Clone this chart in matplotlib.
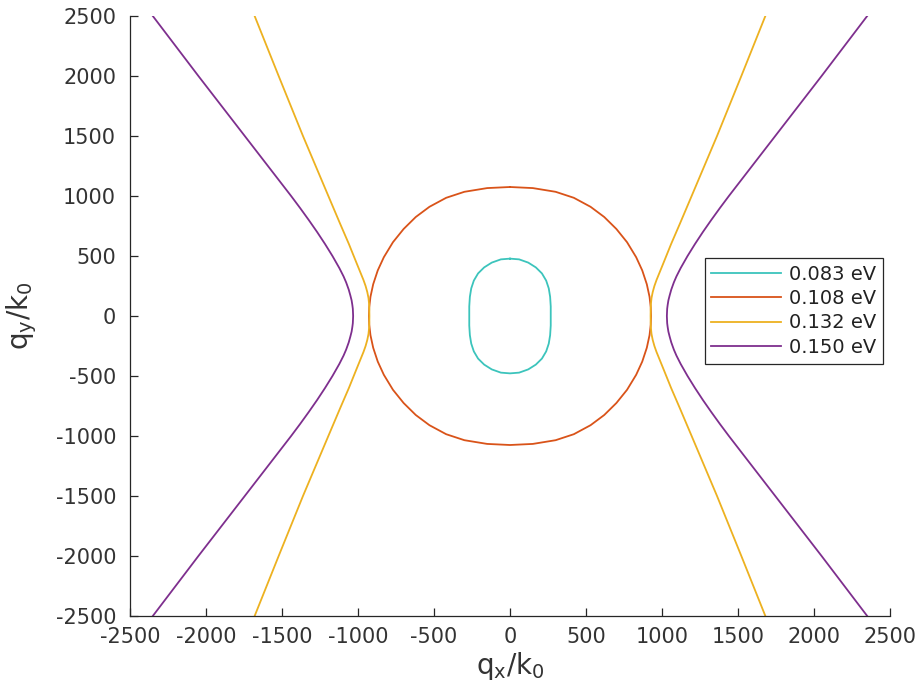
import numpy as np
import matplotlib.pyplot as plt

plt.rcParams['axes.unicode_minus'] = False

# legend entries and colours
labels = ['0.083 eV', '0.108 eV', '0.132 eV', '0.150 eV']
colors = ['#3cc4bc', '#d95319', '#edb120', '#7e2f8e']

# closed contours: first quadrant (x >= 0, y >= 0)
cyan_x = [0, 60, 120, 170, 210, 238, 255, 264, 268, 268]
cyan_y = [478, 472, 445, 405, 355, 295, 230, 160, 80, 0]

orange_x = [0, 150, 300, 420, 530, 620, 700, 770, 830, 870, 900, 918, 926, 928]
orange_y = [1075, 1066, 1035, 985, 910, 825, 725, 615, 490, 380, 265, 160, 72, 0]

# open contours: upper half of the left branch
yellow_x = [-1680, -1522, -1362, -1195, -1118, -1060, -1009, -964, -950, -939, -931, -927, -925.5, -925]
yellow_y = [2500, 2000, 1500, 1000, 770, 600, 440, 300, 250, 200, 150, 100, 50, 0]

purple_x = [-2350, -2050, -1745, -1440, -1381, -1324, -1269, -1217, -1168, -1123, -1095,
            -1078, -1061, -1050, -1042, -1037, -1034, -1033, -1032]
purple_y = [2500, 2000, 1500, 1000, 900, 800, 700, 600, 500, 400, 330,
            280, 220, 170, 130, 90, 60, 30, 0]

ticks = [-2500, -2000, -1500, -1000, -500, 0, 500, 1000, 1500, 2000, 2500]


def closed(qx, qy):
    qx, qy = np.array(qx), np.array(qy)
    x = np.concatenate([qx, qx[::-1], -qx, -qx[::-1]])
    y = np.concatenate([qy, -qy[::-1], -qy, qy[::-1]])
    return x, y


def branch(hx, hy):
    hx, hy = np.array(hx), np.array(hy)
    return np.concatenate([hx, hx[::-1]]), np.concatenate([hy, -hy[::-1]])


fig = plt.figure(figsize=(9.23, 6.99), dpi=100)
ax = fig.add_axes([130 / 923, 83 / 699, 760 / 923, 600 / 699])

lw = 1.3
x, y = closed(cyan_x, cyan_y)
ax.plot(x, y, color=colors[0], lw=lw, label=labels[0])
x, y = closed(orange_x, orange_y)
ax.plot(x, y, color=colors[1], lw=lw, label=labels[1])
x, y = branch(yellow_x, yellow_y)
ax.plot(x, y, color=colors[2], lw=lw, label=labels[2])
ax.plot(-x, y, color=colors[2], lw=lw)
x, y = branch(purple_x, purple_y)
ax.plot(x, y, color=colors[3], lw=lw, label=labels[3])
ax.plot(-x, y, color=colors[3], lw=lw)

ax.set_xlim(-2500, 2500)
ax.set_ylim(-2500, 2500)
ax.set_xticks(ticks)
ax.set_yticks(ticks)
ax.spines['top'].set_visible(False)
ax.spines['right'].set_visible(False)
for s in ['left', 'bottom']:
    ax.spines[s].set_color('#262626')
    ax.spines[s].set_linewidth(0.9)
ax.tick_params(direction='in', length=6, width=0.9, color='#262626',
               labelsize=15, labelcolor='#333333')
ax.tick_params(axis='x', pad=8)
ax.tick_params(axis='y', pad=10)

ax.set_xlabel(r'q$_\mathregular{x}$/k$_\mathregular{0}$', fontsize=20, color='#333333', labelpad=2)
ax.set_ylabel(r'q$_\mathregular{y}$/k$_\mathregular{0}$', fontsize=20, color='#333333', labelpad=12)

leg = ax.legend(loc='upper right', bbox_to_anchor=(0.991, 0.597), borderaxespad=0,
                fancybox=False, edgecolor='#262626', fontsize=14, handlelength=3.6,
                labelspacing=0.28, handletextpad=0.4, borderpad=0.35, framealpha=1)
leg.get_frame().set_linewidth(0.9)
for t in leg.get_texts():
    t.set_color('#222222')

fig.savefig('out.png', dpi=100)
